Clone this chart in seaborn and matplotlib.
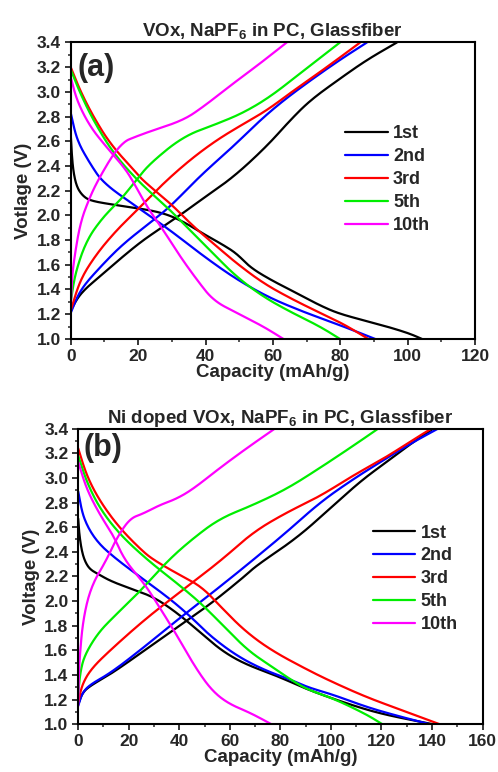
import numpy as np
import pandas as pd
import matplotlib
matplotlib.use("Agg")
import matplotlib.pyplot as plt
import seaborn as sns
from matplotlib.ticker import MultipleLocator, FormatStrFormatter

sns.set_theme(style="ticks")
plt.rcParams['font.family'] = ['Liberation Sans', 'DejaVu Sans']
plt.rcParams['font.weight'] = 'bold'
plt.rcParams['mathtext.fontset'] = 'custom'
plt.rcParams['mathtext.rm'] = 'Liberation Sans:bold'
plt.rcParams['mathtext.bf'] = 'Liberation Sans:bold'

cycles = ["1st", "2nd", "3rd", "5th", "10th"]
colors = ["#000000", "#0000ff", "#ff0000", "#00ee00", "#ff00ff"]

# ---------------- Panel (a): VOx ----------------
a_dis_x = {
    "1st": [0, 0.3, 0.8, 1.8, 3.5, 5.7, 11.7, 19.6, 27.5, 33.4, 39.4, 45.3, 49.3, 53.2, 59.2, 67.1, 74, 80, 90, 100, 104.2],
    "2nd": [0, 1.8, 5.7, 9.7, 19.6, 29.5, 39.4, 49.3, 59.2, 69, 74, 82.9, 90.3],
    "3rd": [0, 2.8, 6.7, 11.7, 18.6, 21.5, 29.5, 36.4, 43.3, 49.3, 57.2, 65.1, 74, 81, 88.3],
    "5th": [0, 2.8, 6.7, 12.7, 20.6, 28.5, 35.4, 42.3, 49.3, 57.2, 65.1, 74, 79.9],
    "10th": [0, 1.8, 5.7, 10.7, 15.5, 18, 22.6, 27.5, 32.4, 37.4, 42.3, 49.3, 57.2, 63.1],
}
a_dis_y = {
    "1st": [2.66, 2.50, 2.35, 2.23, 2.16, 2.12, 2.09, 2.06, 2.02, 1.95, 1.85, 1.76, 1.69, 1.58, 1.48, 1.37, 1.27, 1.20, 1.13, 1.05, 1.0],
    "2nd": [2.83, 2.61, 2.42, 2.26, 2.07, 1.88, 1.67, 1.48, 1.33, 1.22, 1.17, 1.08, 1.0],
    "3rd": [3.20, 3.01, 2.80, 2.58, 2.37, 2.28, 2.10, 1.91, 1.75, 1.61, 1.45, 1.33, 1.21, 1.12, 1.0],
    "5th": [3.18, 2.99, 2.77, 2.50, 2.26, 2.07, 1.88, 1.69, 1.50, 1.34, 1.22, 1.10, 1.0],
    "10th": [3.12, 2.93, 2.72, 2.55, 2.40, 2.30, 2.07, 1.88, 1.67, 1.48, 1.31, 1.21, 1.10, 1.0],
}
a_chg_x = {
    "1st": [0, 2.8, 9.7, 15.6, 21.5, 27.5, 33.4, 39.4, 48.3, 58.2, 65.1, 71, 79, 87.9, 96.8],
    "2nd": [0, 2.8, 9.7, 15.6, 23.5, 29.5, 38.4, 48.3, 56.2, 63.1, 71, 79.9, 87.9],
    "3rd": [0, 2.8, 7.7, 13.6, 19.6, 27.5, 35.4, 43.3, 51.2, 58.2, 66.1, 75, 85.9],
    "5th": [0, 1.3, 4.7, 9.7, 14.6, 19.6, 23.5, 33.4, 43.3, 51.2, 59.2, 68.1, 79.9],
    "10th": [0, 0.3, 0.8, 2.8, 5.7, 8.2, 12.7, 16, 18.6, 23.5, 33.4, 39.4, 48.3, 56.2, 64.1],
}
a_chg_y = {
    "1st": [1.23, 1.37, 1.53, 1.67, 1.80, 1.91, 2.02, 2.14, 2.31, 2.56, 2.77, 2.93, 3.09, 3.26, 3.4],
    "2nd": [1.21, 1.40, 1.61, 1.77, 1.94, 2.07, 2.32, 2.56, 2.77, 2.93, 3.09, 3.26, 3.4],
    "3rd": [1.23, 1.48, 1.69, 1.88, 2.04, 2.26, 2.45, 2.61, 2.74, 2.85, 3.01, 3.18, 3.4],
    "5th": [1.30, 1.53, 1.80, 1.99, 2.12, 2.29, 2.42, 2.64, 2.74, 2.83, 2.96, 3.15, 3.4],
    "10th": [1.25, 1.45, 1.61, 1.94, 2.15, 2.29, 2.50, 2.60, 2.63, 2.68, 2.77, 2.88, 3.07, 3.23, 3.4],
}

# ---------------- Panel (b): Ni doped VOx ----------------
b_dis_x = {
    "1st": [0, 0.4, 1.3, 2.5, 4.5, 7.8, 13.1, 21, 30.2, 39.4, 48.7, 56.6, 65.8, 79, 90.9, 107.5, 120.7, 140.5],
    "2nd": [0, 2, 7.3, 15.7, 26.3, 36.8, 44.7, 52.6, 63.2, 73.7, 84.3, 90.9, 100.9, 114.1, 126, 139.2],
    "3rd": [0, 3.3, 8.6, 16.5, 25.7, 30.2, 39.4, 48.7, 56.6, 65.8, 76.4, 90.9, 100.9, 114.1, 127.3, 143.1],
    "5th": [0, 3.3, 8.6, 16.5, 27.6, 39.4, 48.7, 57.9, 67.1, 76.4, 84.3, 90.9, 100.9, 114.1, 120.4],
    "10th": [0, 3.3, 8.6, 14, 18.4, 26.3, 32.8, 39.4, 46.1, 52.6, 59.2, 68.4, 76.5],
}
b_dis_y = {
    "1st": [2.67, 2.55, 2.42, 2.33, 2.26, 2.22, 2.16, 2.10, 2.03, 1.90, 1.74, 1.60, 1.49, 1.39, 1.28, 1.16, 1.08, 1.0],
    "2nd": [2.89, 2.67, 2.48, 2.33, 2.17, 2.01, 1.87, 1.71, 1.55, 1.44, 1.36, 1.30, 1.24, 1.14, 1.07, 1.0],
    "3rd": [3.24, 3.02, 2.81, 2.59, 2.40, 2.33, 2.22, 2.12, 1.95, 1.76, 1.60, 1.44, 1.34, 1.22, 1.12, 1.0],
    "5th": [3.18, 2.97, 2.75, 2.54, 2.33, 2.14, 1.98, 1.79, 1.60, 1.47, 1.36, 1.28, 1.21, 1.08, 1.0],
    "10th": [3.13, 2.91, 2.70, 2.53, 2.33, 2.14, 1.93, 1.71, 1.47, 1.28, 1.17, 1.09, 1.0],
}
b_chg_x = {
    "1st": [0, 1.5, 4.5, 13.1, 26.3, 39.4, 52.6, 65.8, 70.6, 86.4, 99.6, 111.5, 122, 132.5, 140.5],
    "2nd": [0, 1.5, 4.5, 13.1, 26.3, 39.4, 52.6, 66.6, 82.5, 95.6, 108.8, 122, 132.5, 142.4],
    "3rd": [0, 1.5, 5.1, 13.1, 26.3, 39.4, 56.6, 69.2, 82.5, 95.6, 108.8, 122, 132.5, 139.8],
    "5th": [0, 0.8, 2.5, 7.8, 14.4, 23.6, 35.5, 45.5, 56, 69.2, 82.5, 95.6, 108.8, 118.7],
    "10th": [0, 0.2, 0.5, 1.9, 5.1, 11.1, 15.2, 20.4, 25.7, 32.3, 38.9, 45.5, 56, 66.6, 77.8],
}
b_chg_y = {
    "1st": [1.16, 1.25, 1.31, 1.41, 1.60, 1.79, 1.98, 2.20, 2.29, 2.51, 2.75, 2.97, 3.13, 3.29, 3.4],
    "2nd": [1.15, 1.25, 1.32, 1.42, 1.63, 1.85, 2.06, 2.29, 2.56, 2.80, 2.99, 3.16, 3.29, 3.4],
    "3rd": [1.18, 1.32, 1.45, 1.61, 1.85, 2.06, 2.33, 2.56, 2.72, 2.85, 3.02, 3.17, 3.31, 3.4],
    "5th": [1.25, 1.42, 1.56, 1.74, 1.88, 2.06, 2.33, 2.51, 2.67, 2.78, 2.91, 3.08, 3.26, 3.4],
    "10th": [1.15, 1.35, 1.52, 1.85, 2.12, 2.33, 2.51, 2.67, 2.71, 2.78, 2.83, 2.91, 3.08, 3.24, 3.4],
}


def chaikin(px, py, sx, sy, iters=4):
    """Corner-cutting smoothing of the polyline through the read points (keeps end points)."""
    P = np.column_stack([np.asarray(px, float) / sx, np.asarray(py, float) / sy])
    for _ in range(iters):
        Q = 0.75 * P[:-1] + 0.25 * P[1:]
        R = 0.25 * P[:-1] + 0.75 * P[1:]
        mid = np.empty((2 * len(Q), 2))
        mid[0::2] = Q
        mid[1::2] = R
        P = np.vstack([P[0], mid[1:-1], P[-1]])
    return P[:, 0] * sx, P[:, 1] * sy


def build(dis_x, dis_y, chg_x, chg_y, xmax):
    frames = []
    for c in cycles:
        for seg, xs, ys in (("dis", dis_x[c], dis_y[c]), ("chg", chg_x[c], chg_y[c])):
            cx, cy = chaikin(xs, ys, xmax, 2.4)
            frames.append(pd.DataFrame({"cycle": c, "unit": c + seg, "cap": cx, "volt": cy}))
    return pd.concat(frames, ignore_index=True)


df_a = build(a_dis_x, a_dis_y, a_chg_x, a_chg_y, 120)
df_b = build(b_dis_x, b_dis_y, b_chg_x, b_chg_y, 160)

fig = plt.figure(figsize=(4.98, 7.72), dpi=100)
ax1 = fig.add_axes([0.142, 0.561, 0.812, 0.384])
ax2 = fig.add_axes([0.157, 0.0618, 0.812, 0.383])

palette = dict(zip(cycles, colors))

panels = [
    (ax1, df_a, 120, r"VOx, NaPF$_{\mathbf{6}}$ in PC, Glassfiber", "Votlage (V)", "(a)",
     (0.661, 0.745), (0.016, 0.965)),
    (ax2, df_b, 160, r"Ni doped VOx, NaPF$_{\mathbf{6}}$ in PC, Glassfiber", "Voltage (V)", "(b)",
     (0.711, 0.700), (0.012, 0.985)),
]

for ax, df, xmax, title, ylabel, tag, legpos, tagpos in panels:
    sns.lineplot(data=df, x="cap", y="volt", hue="cycle", hue_order=cycles,
                 units="unit", estimator=None, sort=False, palette=palette,
                 linewidth=1.6, ax=ax)
    ax.set_xlim(0, xmax)
    ax.set_ylim(1.0, 3.4)
    ax.xaxis.set_major_locator(MultipleLocator(20))
    ax.xaxis.set_minor_locator(MultipleLocator(10))
    ax.yaxis.set_major_locator(MultipleLocator(0.2))
    ax.yaxis.set_minor_locator(MultipleLocator(0.1))
    ax.yaxis.set_major_formatter(FormatStrFormatter("%.1f"))
    ax.tick_params(which="major", direction="out", length=4, width=1.3, labelsize=12.5, pad=3)
    ax.tick_params(which="minor", direction="out", length=2.5, width=1.1)
    for lab in ax.get_xticklabels() + ax.get_yticklabels():
        lab.set_fontweight("bold")
    for sp in ax.spines.values():
        sp.set_linewidth(1.5)
        sp.set_color("black")
    ax.set_xlabel("Capacity (mAh/g)", fontsize=13.5, fontweight="bold", labelpad=0)
    ax.set_ylabel(ylabel, fontsize=13.5, fontweight="bold", labelpad=3)
    ax.set_title(title, fontsize=13.5, fontweight="bold", pad=4)
    ax.text(tagpos[0], tagpos[1], tag, transform=ax.transAxes, fontsize=22, fontweight="bold",
            va="top", ha="left")
    leg = ax.legend(loc="upper left", bbox_to_anchor=legpos, frameon=False,
                    fontsize=13, handlelength=2.35, handletextpad=0.3,
                    labelspacing=0.33, borderaxespad=0)
    for t in leg.get_texts():
        t.set_fontweight("bold")
    for l in leg.get_lines():
        l.set_linewidth(1.6)

fig.savefig("out.png", dpi=100)
